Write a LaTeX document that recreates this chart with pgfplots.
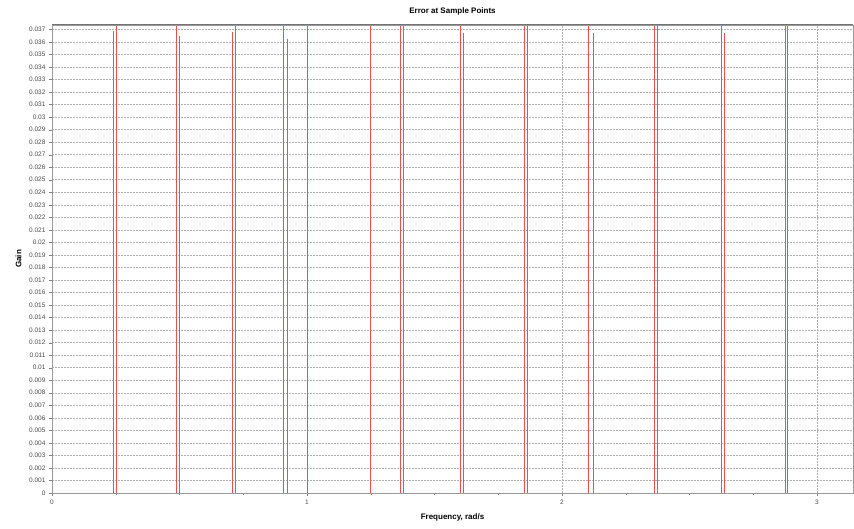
\documentclass[border=0pt]{standalone}
\usepackage{pgfplots}
\pgfplotsset{compat=1.18}
\usepackage{fontspec}
\setmainfont{Liberation Sans}
\definecolor{stemred}{RGB}{235,80,80}
\definecolor{gridc}{RGB}{175,175,175}
\begin{document}
\begin{tikzpicture}
\begin{axis}[
  scale only axis,
  width=801pt, height=468pt,
  xmin=0, xmax=3.14159,
  ymin=0, ymax=0.03735,
  xtick={0,1,2,3},
  minor x tick num=3,
  ytick={0,0.001,...,0.0375},
  scaled y ticks=false,
  yticklabel style={/pgf/number format/fixed,/pgf/number format/precision=3,font=\fontsize{6.5}{7}\selectfont,text=black!70},
  xticklabel style={font=\fontsize{6.5}{7}\selectfont,text=black!70},
  /pgf/number format/assume math mode=true,
  tick align=outside,
  tick pos=left,
  major tick length=3pt,
  minor tick length=2pt,
  tick style={gray},
  xmajorgrids, ymajorgrids,
  major grid style={gridc, dash pattern=on 1.5pt off 1.5pt, line width=0.5pt},
  axis line style={gray!80},
  title={\textbf{Error at Sample Points}},
  title style={font=\fontsize{8}{9}\selectfont, yshift=0pt},
  xlabel={\textbf{Frequency, rad/s}},
  ylabel={\textbf{Gain}},
  xlabel style={font=\fontsize{8}{9}\selectfont, yshift=-3pt},
  ylabel style={font=\fontsize{8}{9}\selectfont, yshift=1pt},
]
\addplot[ycomb, draw=stemred, line width=1pt, no marks] coordinates {
  (0.240,0.0369) (0.253,0.0373)
  (0.488,0.0373) (0.501,0.0365)
  (0.706,0.0368) (0.719,0.0373)
  (0.909,0.0373) (0.925,0.0362)
  (1.001,0.0373)
  (1.251,0.0373)
  (1.365,0.0373) (1.378,0.0373)
  (1.601,0.0373) (1.614,0.0367)
  (1.855,0.0373) (1.864,0.0373)
  (2.106,0.0373) (2.122,0.0367)
  (2.364,0.0373) (2.373,0.0373)
  (2.627,0.0373) (2.637,0.0367)
  (2.876,0.0373) (2.885,0.0373)
};
\draw[gray!90!black, line width=1pt] (rel axis cs:0,1) -- (rel axis cs:1,1);
\end{axis}
\path[use as bounding box] ([shift={(-52pt,-36pt)}]current axis.south west) rectangle ([shift={(1pt,25pt)}]current axis.north east);
\end{tikzpicture}
\end{document}
